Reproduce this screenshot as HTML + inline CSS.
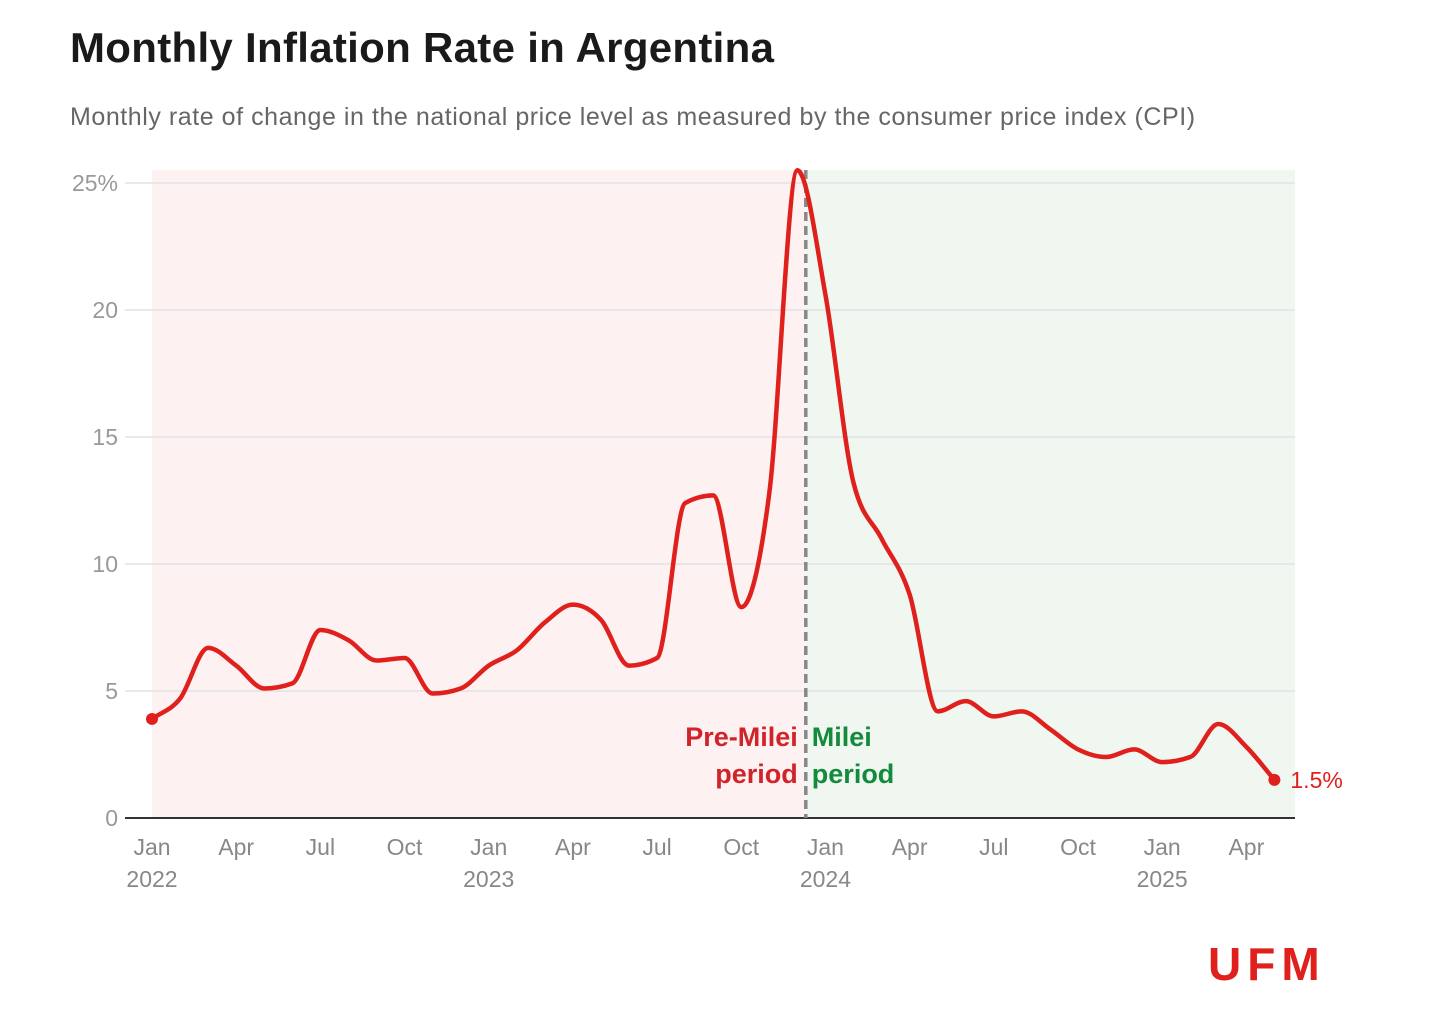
<!DOCTYPE html>
<html><head><meta charset="utf-8">
<style>
body{margin:0;background:#fff;width:1432px;height:1018px;overflow:hidden;font-family:"Liberation Sans",sans-serif}
#t{position:absolute;left:70px;top:24px;font-size:42px;font-weight:bold;color:#1a1a1a;letter-spacing:0.3px}
#s{position:absolute;left:70px;top:103px;font-size:25px;color:#666;letter-spacing:0.55px}
svg{position:absolute;left:0;top:0}
</style></head><body>
<div id="t">Monthly Inflation Rate in Argentina</div>
<div id="s">Monthly rate of change in the national price level as measured by the consumer price index (CPI)</div>
<svg id="c" width="1432" height="1018"></svg>
<script>
const values=[3.9,4.7,6.7,6.0,5.1,5.3,7.4,7.0,6.2,6.3,4.9,5.1,
6.0,6.6,7.7,8.4,7.8,6.0,6.3,12.4,12.7,8.3,12.8,25.5,
20.6,13.2,11.0,8.8,4.2,4.6,4.0,4.2,3.5,2.7,2.4,2.7,
2.2,2.4,3.7,2.8,1.5];
const yTicks=[0,5,10,15,20,25];
const yTickLabels=["0","5","10","15","20","25%"];
const xTickMonths=[0,3,6,9,12,15,18,21,24,27,30,33,36,39];
const xTickLabels=["Jan","Apr","Jul","Oct","Jan","Apr","Jul","Oct","Jan","Apr","Jul","Oct","Jan","Apr"];
const yearLabels={0:"2022",12:"2023",24:"2024",36:"2025"};
const miliStart=23.3;
const x=m=>152+m*28.06;
const y=v=>818-v*25.4;
const svg=document.getElementById('c');
const NS="http://www.w3.org/2000/svg";
function mk(t,a,txt){const e=document.createElementNS(NS,t);for(const k in a)e.setAttribute(k,a[k]);if(txt!==undefined)e.textContent=txt;svg.appendChild(e);return e;}
let e;
e=mk('rect',{x:152,y:170,width:x(miliStart)-152,height:648,fill:'#fdf2f1'});


e=mk('rect',{x:x(miliStart),y:170,width:1295-x(miliStart),height:648,fill:'#f0f7f1'});


yTicks.forEach((v,i)=>{
 if(v>0){e=mk('line',{x1:125,x2:1295,y1:y(v),y2:y(v),stroke:'#e2e2e2','stroke-width':1.5});
 
 }
 e=mk('text',{x:118,y:y(v)+8,'text-anchor':'end','font-size':23,fill:'#999'},yTickLabels[i]);
 
 
});
e=mk('line',{x1:125,x2:1295,y1:818,y2:818,stroke:'#333','stroke-width':2});


xTickMonths.forEach((m,i)=>{
 e=mk('text',{x:x(m),y:855,'text-anchor':'middle','font-size':23,fill:'#888'},xTickLabels[i]);
 
 
 if(yearLabels[m]){e=mk('text',{x:x(m),y:887,'text-anchor':'middle','font-size':23,fill:'#888'},yearLabels[m]);
 
 }
});
e=mk('line',{x1:x(miliStart),x2:x(miliStart),y1:170,y2:818,stroke:'#888','stroke-width':3.5,'stroke-dasharray':'9,5'});


// monotone cubic (Fritsch-Carlson style, like d3 curveMonotoneX)
const P=values.map((v,i)=>[x(i),y(v)]);
const n=P.length;
const sl=[];for(let i=0;i<n-1;i++)sl.push((P[i+1][1]-P[i][1])/(P[i+1][0]-P[i][0]));
const tg=[];
for(let i=0;i<n;i++){
 if(i===0)tg.push(sl[0]);else if(i===n-1)tg.push(sl[n-2]);
 else{const a=sl[i-1],b=sl[i];
  if(a*b<=0)tg.push(0);
  else{const p=(a+b)/2;tg.push((Math.sign(a)+Math.sign(b))*Math.min(Math.abs(a),Math.abs(b),0.5*Math.abs(p)));}}
}
let d=`M${P[0][0]},${P[0][1]}`;
for(let i=0;i<n-1;i++){
 const h=(P[i+1][0]-P[i][0])/3;
 d+=` C${P[i][0]+h},${P[i][1]+h*tg[i]} ${P[i+1][0]-h},${P[i+1][1]-h*tg[i+1]} ${P[i+1][0]},${P[i+1][1]}`;
}
e=mk('path',{d:d,fill:'none',stroke:'#e0201c','stroke-width':4.5,'stroke-linejoin':'round'});


e=mk('circle',{cx:P[0][0],cy:P[0][1],r:6,fill:'#e0201c'});


const L=P[P.length-1];
e=mk('circle',{cx:L[0],cy:L[1],r:6,fill:'#e0201c'});


e=mk('text',{x:L[0]+16,y:L[1]+8,'font-size':23,fill:'#e0201c'},values[values.length-1]+'%');


const xd=x(miliStart);
[['Pre-Milei',746],['period',783]].forEach(([t,yy])=>{
 e=mk('text',{x:xd-8,y:yy,'text-anchor':'end','font-size':27,'font-weight':'bold',fill:'#d0232a'},t);
 
 
});
[['Milei',746],['period',783]].forEach(([t,yy])=>{
 e=mk('text',{x:xd+6,y:yy,'font-size':27,'font-weight':'bold',fill:'#148a3c'},t);
 
 
});
e=mk('text',{x:1208,y:980,'font-size':46,'font-weight':'bold',fill:'#e0201c','letter-spacing':6},'UFM');


</script>
</body></html>
